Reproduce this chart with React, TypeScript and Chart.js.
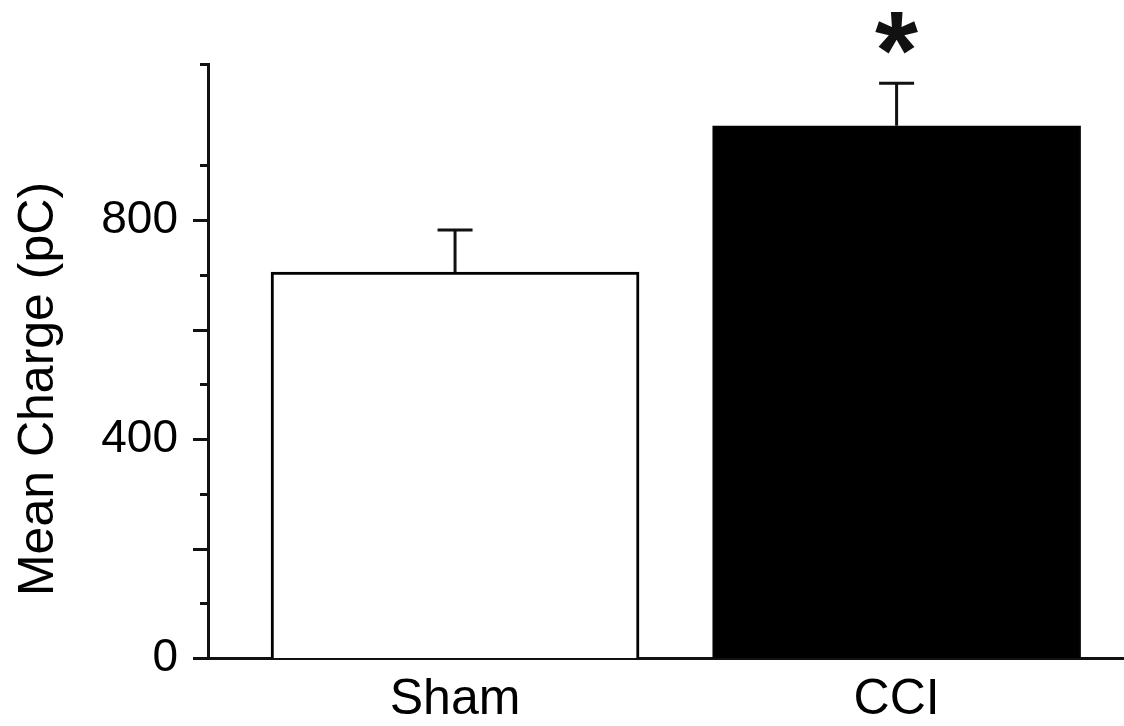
import React, { useEffect, useRef } from 'react';
import { Chart, registerables } from 'chart.js';

Chart.register(...registerables);

const categories = ['Sham', 'CCI'];
const xPositions = [1, 2];
const meanCharge = [705, 972];
const errorUpper = [782, 1050];
const significance = ['', '*'];
const barColors = ['#ffffff', '#000000'];
const yLabelTicks = [0, 400, 800];
const yTitle = 'Mean Charge (pC)';

const FONT = '"Liberation Sans", Arial, Helvetica, sans-serif';

const overlay = {
  id: 'overlay',
  afterDraw(chart: any) {
    const ctx = chart.ctx as CanvasRenderingContext2D;
    const y = chart.scales.y;
    const meta = chart.getDatasetMeta(0);
    ctx.save();
    ctx.strokeStyle = '#111';
    ctx.fillStyle = '#111';
    ctx.lineWidth = 3;
    // error bars + significance
    meta.data.forEach((bar: any, i: number) => {
      const top = y.getPixelForValue(meanCharge[i]);
      const cap = y.getPixelForValue(errorUpper[i]);
      ctx.beginPath();
      ctx.moveTo(bar.x, top);
      ctx.lineTo(bar.x, cap);
      ctx.moveTo(bar.x - 17.5, cap);
      ctx.lineTo(bar.x + 17.5, cap);
      ctx.stroke();
      if (significance[i]) {
        ctx.font = 'bold 100px ' + FONT;
        const m0 = ctx.measureText(significance[i]);
        const h0 = m0.actualBoundingBoxAscent + m0.actualBoundingBoxDescent;
        const size = (100 * 42) / (h0 || 42);
        ctx.font = 'bold ' + size + 'px ' + FONT;
        const m = ctx.measureText(significance[i]);
        const cy = cap - 50;
        const baseline = cy + (m.actualBoundingBoxAscent - m.actualBoundingBoxDescent) / 2;
        const cx = bar.x + (m.actualBoundingBoxLeft - m.actualBoundingBoxRight) / 2;
        ctx.textAlign = 'left';
        ctx.textBaseline = 'alphabetic';
        ctx.fillText(significance[i], cx, baseline);
      }
    });
    // y tick marks
    ctx.lineWidth = 3;
    y.ticks.forEach((t: any) => {
      const py = Math.round(y.getPixelForValue(t.value)) + 0.5;
      const len = t.value % 200 === 0 ? 15 : 8;
      ctx.beginPath();
      ctx.moveTo(y.right - len, py);
      ctx.lineTo(y.right, py);
      ctx.stroke();
    });
    // y title
    ctx.translate(53, 389);
    ctx.rotate(-Math.PI / 2);
    ctx.font = '50px ' + FONT;
    ctx.textAlign = 'center';
    ctx.textBaseline = 'alphabetic';
    ctx.fillStyle = '#000';
    ctx.fillText(yTitle, 0, 0);
    ctx.restore();
  },
};

export default function App() {
  const ref = useRef<HTMLCanvasElement>(null);
  useEffect(() => {
    document.body.style.margin = '0';
    document.body.style.background = '#ffffff';
    const canvas = ref.current!;
    const chart = new Chart(canvas, {
      type: 'bar',
      data: {
        datasets: [
          {
            data: xPositions.map((x, i) => ({ x, y: meanCharge[i] })),
            backgroundColor: barColors,
            borderColor: '#000',
            borderWidth: [3, 1],
            barThickness: 368,
            borderSkipped: 'start',
          },
        ],
      },
      options: {
        animation: false,
        responsive: false,
        devicePixelRatio: 1,
        layout: { padding: { top: 64, left: 0, right: 0, bottom: 0 } },
        plugins: { legend: { display: false }, tooltip: { enabled: false } },
        scales: {
          x: {
            type: 'linear',
            offset: false,
            min: 0.4405,
            max: 2.515,
            afterBuildTicks: (scale: any) => {
              scale.ticks = xPositions.map((v) => ({ value: v }));
            },
            afterFit: (scale: any) => {
              scale.height = 68;
            },
            grid: { display: false, drawTicks: false, offset: false },
            border: { display: true, color: '#111', width: 3 },
            ticks: {
              autoSkip: false,
              maxRotation: 0,
              padding: 12,
              color: '#000',
              font: { size: 50, family: FONT },
              callback: (v: any) => {
                const idx = xPositions.indexOf(Number(v));
                return idx >= 0 ? categories[idx] : '';
              },
            },
          },
          y: {
            type: 'linear',
            min: 0,
            max: 1085,
            afterFit: (scale: any) => {
              scale.width = 208;
            },
            grid: { display: false, drawTicks: false },
            border: { display: true, color: '#111', width: 3 },
            ticks: {
              stepSize: 100,
              autoSkip: false,
              padding: 30,
              color: '#000',
              font: { size: 46, family: FONT },
              callback: (v: any) => (yLabelTicks.includes(Number(v)) ? String(v) : ''),
            },
          },
        },
      },
      plugins: [overlay],
    } as any);
    return () => chart.destroy();
  }, []);
  return (
    <div style={{ width: 1124, height: 726, background: '#fff' }}>
      <canvas ref={ref} width={1124} height={726} style={{ display: 'block' }} />
    </div>
  );
}
